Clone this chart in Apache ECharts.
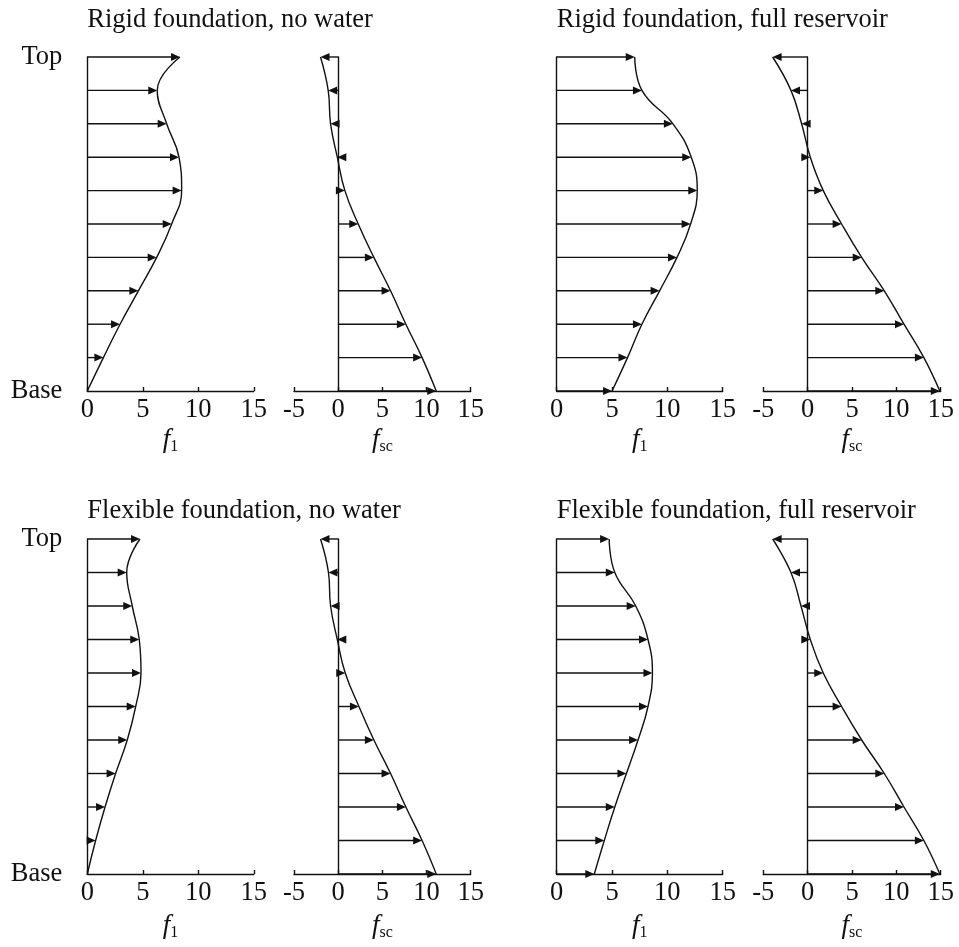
<!DOCTYPE html>
<html>
<head>
<meta charset="utf-8">
<script src="https://cdn.jsdelivr.net/npm/echarts@6/dist/echarts.min.js"></script>
<style>
  html, body { margin: 0; padding: 0; background: #fff; }
  #chart { width: 959px; height: 947px; }
</style>
</head>
<body>
<div id="chart"></div>
<script>
// Height levels along the dam, base (0) to top (10)
const levels = [0, 1, 2, 3, 4, 5, 6, 7, 8, 9, 10];

// First-mode force f1 and static-correction force fsc at each level
const rigidDryF1   = [0, 1.45, 2.95, 4.6, 6.25, 7.6, 8.5, 8.26, 7.15, 6.3, 8.35];
const rigidDryFsc  = [11.1, 9.5, 7.66, 5.93, 4.04, 2.27, 0.76, -0.1, -0.86, -1.13, -2.0];
const rigidFullF1  = [5.0, 6.4, 7.7, 9.3, 10.87, 12.1, 12.7, 12.16, 10.5, 7.7, 7.05];
const rigidFullFsc = [14.9, 13.1, 10.86, 8.64, 6.09, 3.83, 1.76, 0.3, -0.68, -1.88, -3.95];
const flexDryF1    = [0, 0.75, 1.6, 2.55, 3.6, 4.36, 4.84, 4.68, 4.05, 3.55, 4.75];
const flexDryFsc   = [11.1, 9.5, 7.66, 5.93, 4.04, 2.35, 0.8, -0.1, -0.86, -1.1, -2.0];
const flexFullF1   = [3.4, 4.3, 5.25, 6.3, 7.35, 8.25, 8.65, 8.25, 7.14, 5.25, 4.74];
const flexFullFsc  = [14.9, 13.1, 10.86, 8.64, 6.09, 3.83, 1.76, 0.3, -0.75, -1.88, -3.95];

// Axis ranges and tick labels
const f1Range  = [0, 15];
const fscRange = [-5, 15];
const tickStep = 5;
const levelLabels = { 0: 'Base', 10: 'Top' };

const titles = [
  'Rigid foundation, no water',
  'Rigid foundation, full reservoir',
  'Flexible foundation, no water',
  'Flexible foundation, full reservoir'
];

const FONT = 'Liberation Serif, Times New Roman, serif';
const INK = '#111';
const FS = 26.5;

// panel layout: [left, top, width, height]
const rowTop = [57, 539];
const rowH = [334, 335];
const colLeft = [87.3, 294, 556.7, 763.3];
const colW = [166.5, 176.7, 166, 177.4];

const panels = [
  { data: rigidDryF1,   kind: 'f1',  row: 0, col: 0 },
  { data: rigidDryFsc,  kind: 'fsc', row: 0, col: 1 },
  { data: rigidFullF1,  kind: 'f1',  row: 0, col: 2 },
  { data: rigidFullFsc, kind: 'fsc', row: 0, col: 3 },
  { data: flexDryF1,    kind: 'f1',  row: 1, col: 0 },
  { data: flexDryFsc,   kind: 'fsc', row: 1, col: 1 },
  { data: flexFullF1,   kind: 'f1',  row: 1, col: 2 },
  { data: flexFullFsc,  kind: 'fsc', row: 1, col: 3 }
];

const grid = [], xAxis = [], yAxis = [], series = [];

function arrowItem(params, api) {
  const v = api.value(0), lv = api.value(1);
  if (v === 0) return null;
  const p0 = api.coord([0, lv]);
  const p1 = api.coord([v, lv]);
  const dir = p1[0] >= p0[0] ? 1 : -1;
  const headLen = 9, halfW = 4;
  const baseX = p1[0] - dir * headLen;
  const children = [];
  if ((baseX - p0[0]) * dir > 0) {
    children.push({
      type: 'line',
      shape: { x1: p0[0], y1: p0[1], x2: baseX + dir, y2: p1[1] },
      style: { stroke: INK, lineWidth: 1.4 }
    });
  }
  children.push({
    type: 'polygon',
    shape: { points: [[p1[0], p1[1]], [baseX, p1[1] - halfW], [baseX, p1[1] + halfW]] },
    style: { fill: INK }
  });
  return { type: 'group', children };
}

panels.forEach((p, i) => {
  const range = p.kind === 'f1' ? f1Range : fscRange;
  grid.push({
    left: colLeft[p.col], top: rowTop[p.row],
    width: colW[p.col], height: rowH[p.row]
  });
  xAxis.push({
    gridIndex: i, type: 'value', min: range[0], max: range[1], interval: tickStep,
    axisLine: { show: true, onZero: false, lineStyle: { color: INK, width: 1.4 } },
    axisTick: { show: true, inside: true, length: 4, lineStyle: { color: INK, width: 1.4 } },
    splitLine: { show: false },
    axisLabel: { color: INK, fontFamily: FONT, fontSize: FS, margin: 6 },
    name: p.kind === 'f1' ? '{i|f}{s|1}' : '{i|f}{s|sc}',
    nameLocation: 'middle', nameGap: p.row === 0 ? 34 : 37,
    nameTextStyle: {
      rich: {
        i: { fontFamily: FONT, fontStyle: 'italic', fontSize: 27, lineHeight: 30, color: INK, verticalAlign: 'middle' },
        s: { fontFamily: FONT, fontSize: 16, lineHeight: 15, color: INK, verticalAlign: 'bottom' }
      }
    }
  });
  const showLevelLabels = p.col === 0;
  yAxis.push({
    gridIndex: i, type: 'value', min: 0, max: 10, interval: 10,
    axisLine: { show: true, onZero: true, lineStyle: { color: INK, width: 1.4 } },
    axisTick: { show: false },
    splitLine: { show: false },
    axisLabel: {
      show: showLevelLabels, color: INK, fontFamily: FONT, fontSize: FS, margin: 25,
      formatter: v => levelLabels[v] || ''
    }
  });
  // profile curve through the arrow tips
  series.push({
    type: 'line', xAxisIndex: i, yAxisIndex: i,
    data: p.data.map((v, k) => [v, levels[k]]),
    smooth: 0.45, showSymbol: false, symbol: 'none',
    lineStyle: { color: INK, width: 1.4 },
    silent: true, animation: false
  });
  // force arrows at each level
  series.push({
    type: 'custom', xAxisIndex: i, yAxisIndex: i,
    data: p.data.map((v, k) => [v, levels[k]]),
    renderItem: arrowItem,
    silent: true, animation: false
  });
});

const titleComp = titles.map((t, k) => ({
  text: t,
  left: k % 2 === 0 ? colLeft[0] : colLeft[2],
  top: k < 2 ? 7 : 498,
  padding: 0,
  textStyle: { fontFamily: FONT, fontSize: FS, fontWeight: 'normal', color: INK }
}));

const chart = echarts.init(document.getElementById('chart'), null, { renderer: 'canvas' });
chart.setOption({
  backgroundColor: '#fff',
  animation: false,
  title: titleComp,
  grid, xAxis, yAxis, series
});
</script>
</body>
</html>
